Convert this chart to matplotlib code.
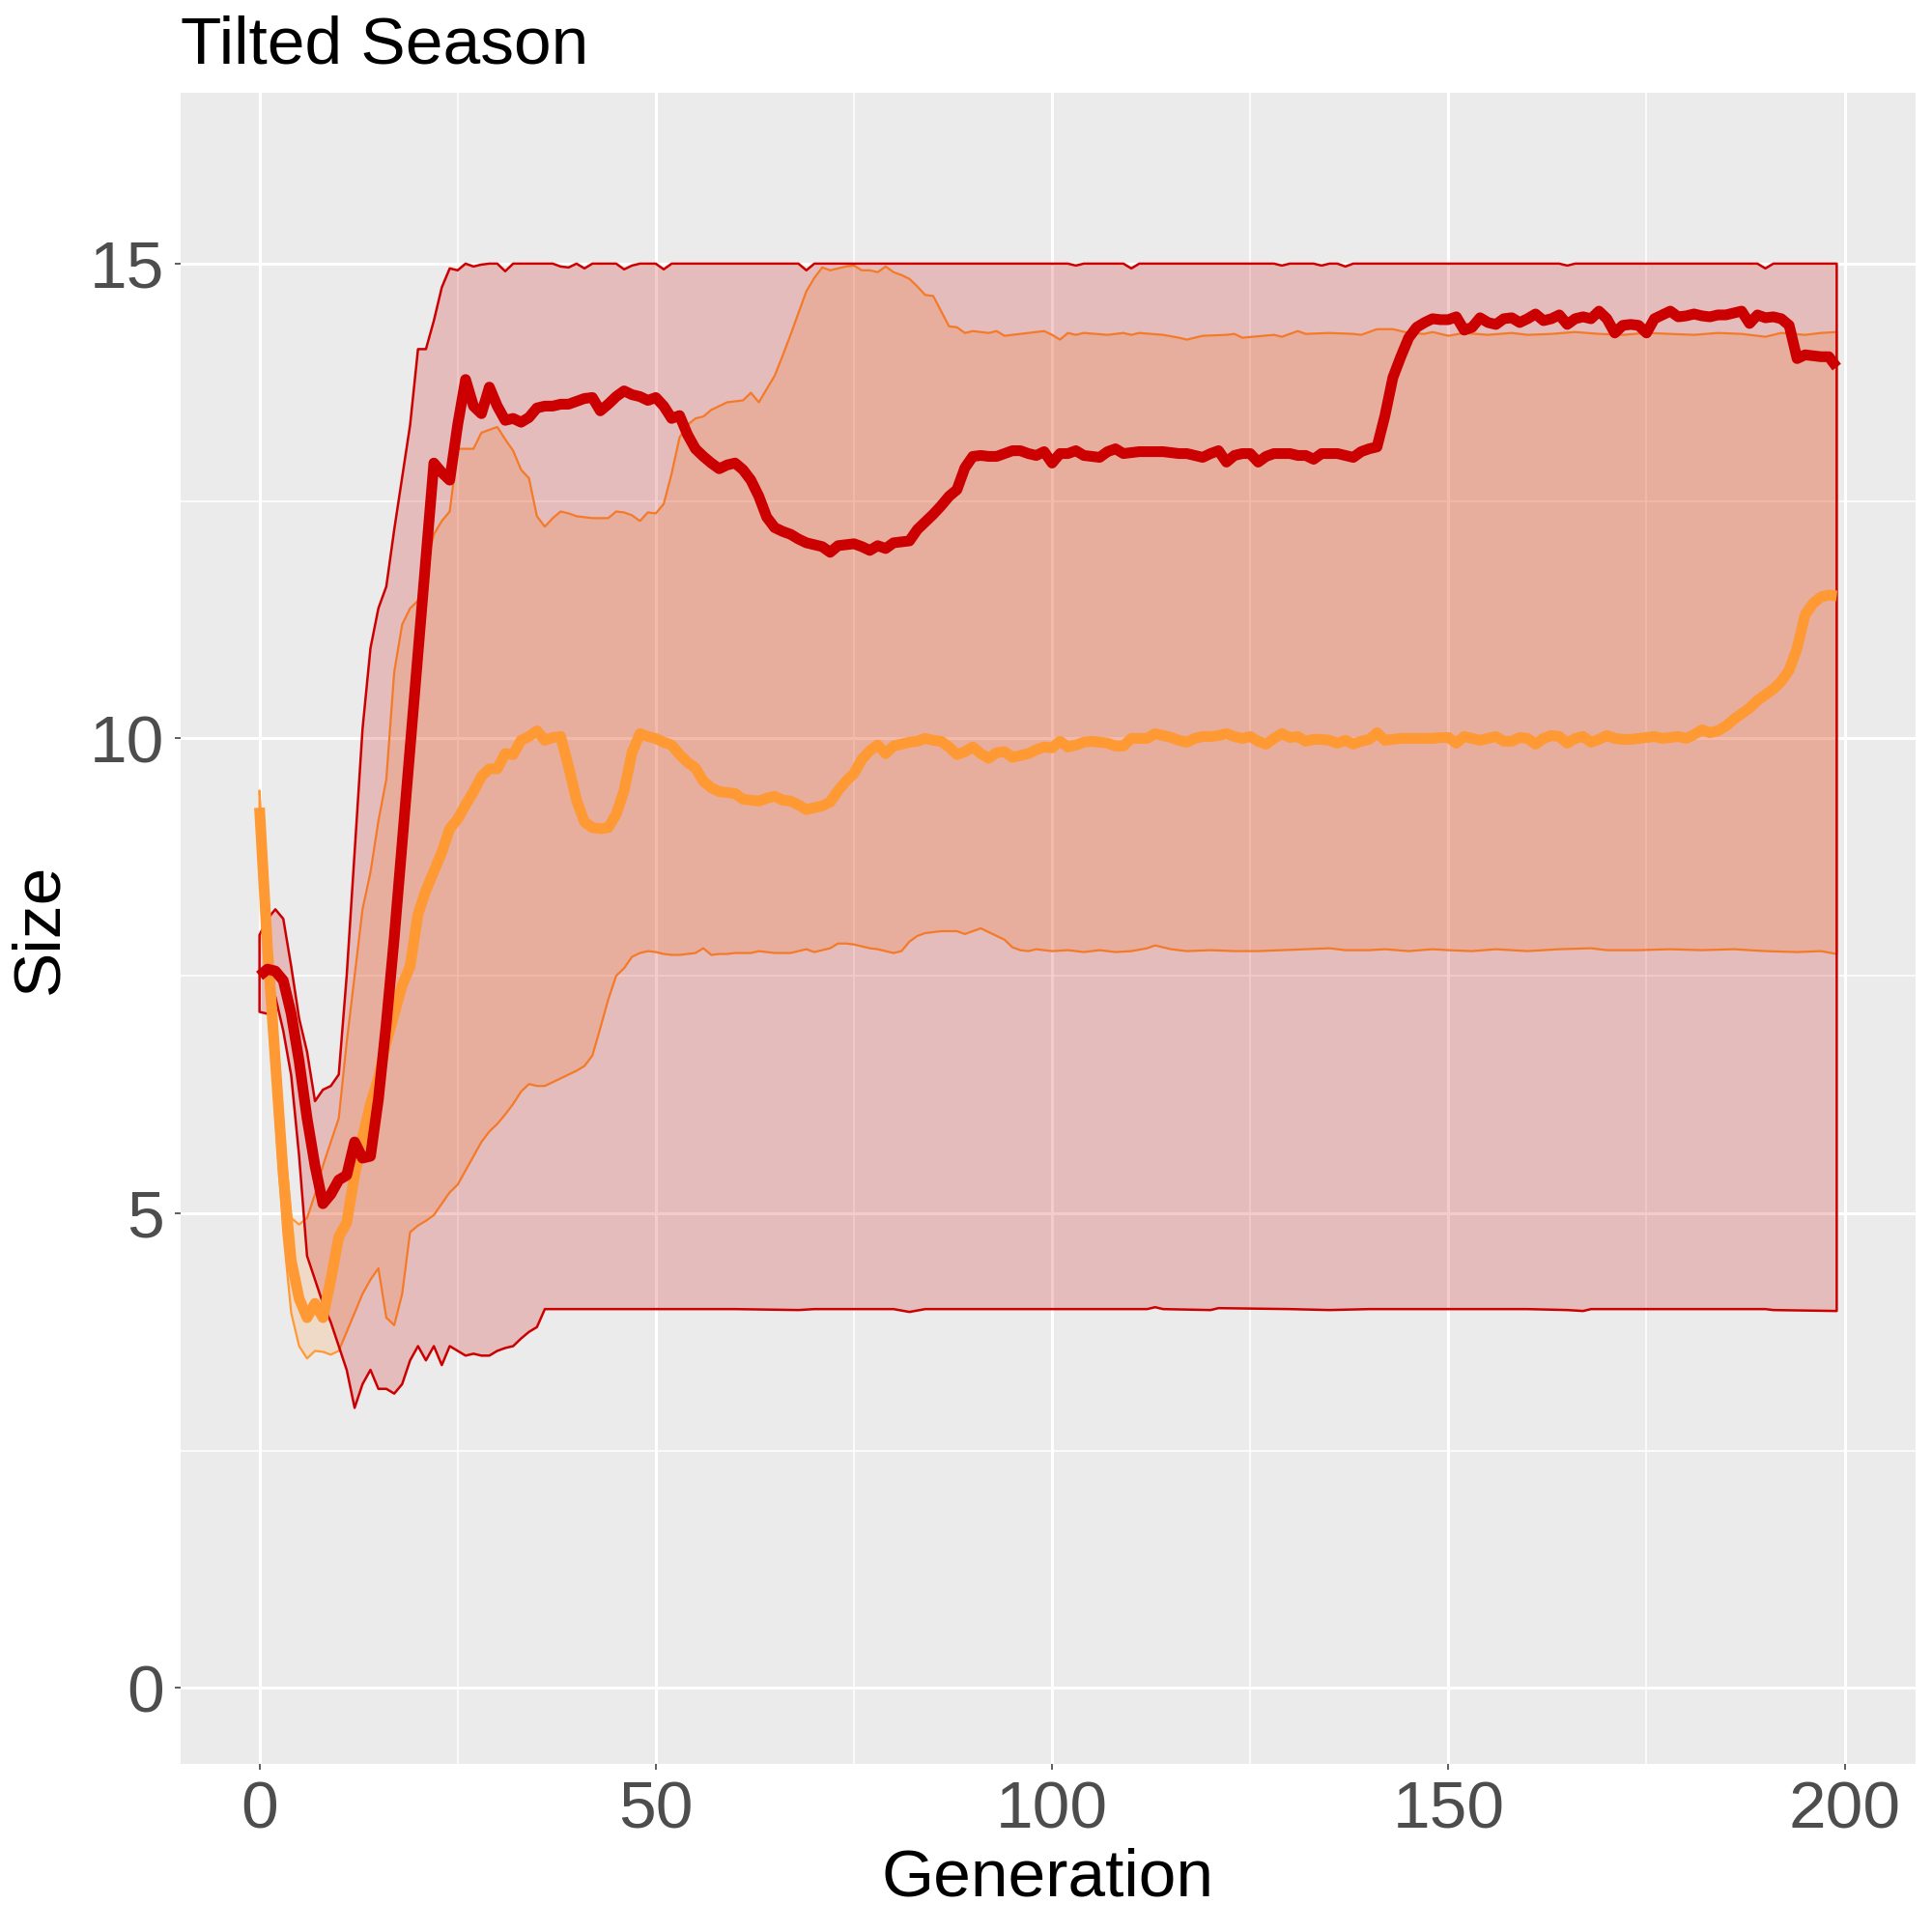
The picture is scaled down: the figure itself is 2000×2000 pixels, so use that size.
import matplotlib
matplotlib.use("Agg")
import matplotlib.pyplot as plt
import numpy as np

plt.rcParams['font.family'] = ['Liberation Sans', 'DejaVu Sans']

# ---------------- data ----------------
# red series: min / max envelope and median
red_max_gen = [0, 1, 2, 3, 4, 5, 6, 7, 8, 9, 10, 11, 12, 13, 14, 15, 16, 17, 18, 19, 20,
               21, 22, 23, 24, 25, 26, 27, 28, 29, 30, 31, 32, 37, 38, 39, 40, 41, 42, 45,
               46, 47, 48, 50, 51, 52, 68, 69, 70, 102, 103, 104, 109, 110, 111, 128, 129,
               130, 133, 134, 135, 136, 137, 138, 164, 165, 166, 189, 190, 191, 199]
red_max_val = [7.93, 8.1, 8.2, 8.1, 7.6, 7.05, 6.7, 6.18, 6.3, 6.34, 6.46, 7.5, 8.8, 10.1,
               10.95, 11.37, 11.6, 12.2, 12.75, 13.3, 14.1, 14.1, 14.4, 14.75, 14.95, 14.93,
               15.0, 14.97, 14.99, 15.0, 15.0, 14.92, 15.0, 15.0, 14.97, 14.96, 15.0, 14.95,
               15.0, 15.0, 14.94, 14.98, 15.0, 15.0, 14.94, 15.0, 15.0, 14.93, 15.0, 15.0,
               14.98, 15.0, 15.0, 14.95, 15.0, 15.0, 14.98, 15.0, 15.0, 14.98, 15.0, 15.0,
               14.97, 15.0, 15.0, 14.98, 15.0, 15.0, 14.95, 15.0, 15.0]

red_min_gen = [0, 1, 2, 3, 4, 5, 6, 7, 8, 9, 10, 11, 12, 13, 14, 15, 16, 17, 18, 19, 20,
               21, 22, 23, 24, 25, 26, 27, 28, 29, 30, 31, 32, 33, 34, 35, 36, 40, 50, 60,
               68, 70, 80, 82, 84, 100, 112, 113, 114, 120, 121, 130, 135, 140, 160, 165,
               167, 168, 180, 190, 191, 199]
red_min_val = [7.12, 7.1, 7.28, 6.92, 6.45, 5.6, 4.55, 4.3, 4.05, 3.85, 3.6, 3.35, 2.95,
               3.2, 3.35, 3.15, 3.15, 3.1, 3.2, 3.45, 3.6, 3.45, 3.6, 3.4, 3.6, 3.55, 3.5,
               3.52, 3.5, 3.5, 3.55, 3.58, 3.6, 3.68, 3.75, 3.8, 3.99, 3.99, 3.99, 3.99,
               3.98, 3.99, 3.99, 3.96, 3.99, 3.99, 3.99, 4.01, 3.99, 3.98, 4.0, 3.99, 3.98,
               3.99, 3.99, 3.98, 3.97, 3.99, 3.99, 3.99, 3.98, 3.97]

red_med_gen = list(range(0, 200))
red_med_val = [7.5, 7.57, 7.55, 7.45, 7.1, 6.6, 6.0, 5.5, 5.1, 5.2,
               5.35, 5.4, 5.75, 5.58, 5.6, 6.2, 7.0, 7.9, 8.9, 9.9,
               10.9, 11.9, 12.9, 12.8, 12.72, 13.3, 13.78, 13.5, 13.42, 13.7,
               13.5, 13.35, 13.37, 13.33, 13.38, 13.48, 13.5, 13.5, 13.52, 13.52,
               13.55, 13.58, 13.59, 13.45, 13.52, 13.6, 13.66, 13.62, 13.6, 13.56,
               13.59, 13.5, 13.37, 13.4, 13.2, 13.05, 12.97, 12.9, 12.84, 12.88,
               12.9, 12.83, 12.72, 12.55, 12.33, 12.22, 12.18, 12.15, 12.1, 12.06,
               12.04, 12.02, 11.96, 12.03, 12.04, 12.05, 12.02, 11.98, 12.03, 12.0,
               12.06, 12.07, 12.08, 12.2, 12.28, 12.36, 12.45, 12.55, 12.62, 12.85,
               12.97, 12.98, 12.97, 12.97, 13.0, 13.03, 13.03, 13.0, 12.98, 13.02,
               12.9, 13.0, 13.0, 13.03, 12.98, 12.97, 12.96, 13.02, 13.05, 13.0,
               13.01, 13.02, 13.02, 13.02, 13.02, 13.01, 13.0, 13.0, 12.98, 12.96,
               13.0, 13.03, 12.91, 12.98, 13.0, 13.0, 12.91, 12.97, 13.0, 13.0,
               13.0, 12.98, 12.98, 12.94, 13.0, 13.0, 13.0, 12.98, 12.96, 13.02,
               13.05, 13.07, 13.4, 13.8, 14.02, 14.22, 14.33, 14.38, 14.42, 14.41,
               14.41, 14.44, 14.3, 14.33, 14.43, 14.38, 14.36, 14.42, 14.43, 14.38,
               14.42, 14.47, 14.4, 14.42, 14.46, 14.36, 14.42, 14.44, 14.42, 14.5,
               14.42, 14.27, 14.35, 14.36, 14.35, 14.27, 14.42, 14.46, 14.5, 14.44,
               14.45, 14.47, 14.45, 14.44, 14.46, 14.46, 14.48, 14.5, 14.37, 14.46,
               14.43, 14.44, 14.42, 14.35, 14.0, 14.04, 14.03, 14.02, 14.02, 13.91]

# orange series: min / max envelope and median
orange_max_gen = list(range(0, 97)) + [99, 100, 101, 102, 103, 104, 107, 109, 110, 111,
                  114, 116, 117, 119, 122, 123, 124, 128, 129, 131, 132, 135, 138, 139,
                  141, 143, 145, 147, 148, 150, 152, 155, 158, 160, 163, 166, 169, 172,
                  175, 178, 181, 184, 187, 190, 192, 195, 197, 199]
orange_max_val = [9.45, 8.1, 7.0, 5.9, 4.95, 4.88, 4.95, 5.2, 5.5, 5.75,
                  6.0, 6.8, 7.5, 8.2, 8.59, 9.13, 9.57, 10.7, 11.2, 11.37,
                  11.45, 11.8, 12.15, 12.29, 12.39, 13.05, 13.05, 13.05, 13.22, 13.25,
                  13.28, 13.15, 13.03, 12.83, 12.74, 12.34, 12.23, 12.32, 12.39, 12.37,
                  12.34, 12.33, 12.32, 12.32, 12.32, 12.39, 12.38, 12.35, 12.29, 12.38,
                  12.37, 12.47, 12.79, 13.17, 13.3, 13.37, 13.39, 13.46, 13.5, 13.54,
                  13.55, 13.56, 13.64, 13.54, 13.68, 13.82, 14.03, 14.25, 14.48, 14.71,
                  14.85, 14.96, 14.93, 14.95, 14.97, 14.98, 14.93, 14.93, 14.91, 14.97,
                  14.91, 14.88, 14.84, 14.76, 14.67, 14.66, 14.5, 14.34, 14.33, 14.27,
                  14.29, 14.28, 14.27, 14.29, 14.24, 14.25, 14.26,
                  14.29, 14.25, 14.2, 14.27, 14.25, 14.27, 14.25, 14.27, 14.25, 14.27,
                  14.25, 14.22, 14.2, 14.24, 14.25, 14.26, 14.22, 14.25, 14.23, 14.29,
                  14.26, 14.27, 14.26, 14.25, 14.31, 14.31, 14.27, 14.26, 14.28, 14.24,
                  14.27, 14.25, 14.27, 14.25, 14.26, 14.28, 14.26, 14.25, 14.27, 14.26,
                  14.25, 14.27, 14.26, 14.23, 14.27, 14.25, 14.27, 14.28]

orange_min_gen = list(range(0, 98)) + [98, 100, 102, 104, 106, 108, 110, 112, 113, 115,
                  117, 120, 123, 126, 129, 132, 135, 137, 140, 142, 145, 148, 150, 153,
                  156, 160, 164, 168, 170, 174, 178, 182, 186, 190, 194, 197, 199]
orange_min_val = [9.15, 7.6, 6.0, 4.8, 3.95, 3.6, 3.47, 3.55, 3.54, 3.51,
                  3.55, 3.75, 3.95, 4.15, 4.3, 4.42, 3.9, 3.82, 4.15, 4.8,
                  4.87, 4.92, 4.98, 5.1, 5.22, 5.3, 5.45, 5.6, 5.75, 5.86,
                  5.94, 6.04, 6.15, 6.28, 6.36, 6.34, 6.34, 6.38, 6.42, 6.46,
                  6.5, 6.55, 6.66, 6.95, 7.25, 7.5, 7.58, 7.7, 7.74, 7.76,
                  7.75, 7.73, 7.72, 7.72, 7.73, 7.74, 7.79, 7.72, 7.73, 7.73,
                  7.74, 7.74, 7.74, 7.76, 7.75, 7.74, 7.74, 7.74, 7.76, 7.78,
                  7.75, 7.77, 7.79, 7.84, 7.84, 7.83, 7.81, 7.79, 7.78, 7.76,
                  7.74, 7.76, 7.86, 7.92, 7.95, 7.96, 7.97, 7.97, 7.97, 7.94,
                  7.97, 8.0, 7.96, 7.92, 7.88, 7.8, 7.77, 7.76,
                  7.78, 7.76, 7.77, 7.75, 7.77, 7.75, 7.76, 7.79, 7.82, 7.78,
                  7.76, 7.77, 7.76, 7.76, 7.77, 7.78, 7.79, 7.77, 7.77, 7.78,
                  7.76, 7.78, 7.77, 7.76, 7.78, 7.76, 7.78, 7.79, 7.77, 7.77,
                  7.78, 7.77, 7.78, 7.76, 7.75, 7.76, 7.73]

orange_med_gen = list(range(0, 200))
orange_med_val = [9.27, 7.8, 6.6, 5.4, 4.5, 4.1, 3.9, 4.05, 3.9, 4.3,
                  4.75, 4.9, 5.4, 5.8, 6.15, 6.42, 6.8, 7.1, 7.4, 7.6,
                  8.15, 8.4, 8.6, 8.8, 9.05, 9.15, 9.3, 9.44, 9.6, 9.68,
                  9.68, 9.84, 9.83, 9.98, 10.02, 10.08, 9.98, 10.01, 10.02, 9.7,
                  9.35, 9.12, 9.06, 9.05, 9.06, 9.2, 9.45, 9.85, 10.05, 10.02,
                  10.0, 9.96, 9.93, 9.83, 9.75, 9.69, 9.55, 9.48, 9.44, 9.43,
                  9.42, 9.36, 9.35, 9.34, 9.37, 9.39, 9.35, 9.34, 9.3, 9.25,
                  9.27, 9.29, 9.33, 9.45, 9.55, 9.63, 9.78, 9.87, 9.93, 9.84,
                  9.92, 9.94, 9.96, 9.97, 10.0, 9.98, 9.97, 9.91, 9.83, 9.86,
                  9.91, 9.84, 9.79, 9.85, 9.86, 9.8, 9.82, 9.84, 9.88, 9.91,
                  9.9, 9.97, 9.91, 9.93, 9.96, 9.97, 9.96, 9.95, 9.92, 9.92,
                  10.0, 10.0, 10.0, 10.05, 10.03, 10.01, 9.98, 9.96, 10.0, 10.02,
                  10.02, 10.03, 10.05, 10.02, 10.0, 10.02, 9.97, 9.94, 10.0, 10.05,
                  10.01, 10.02, 9.97, 9.99, 9.99, 9.98, 9.95, 9.98, 9.94, 9.97,
                  9.99, 10.06, 9.98, 9.99, 10.0, 10.0, 10.0, 10.0, 10.0, 10.01,
                  10.01, 9.95, 10.02, 10.0, 9.98, 10.0, 10.02, 9.97, 9.97, 10.01,
                  10.0, 9.94, 10.0, 10.03, 10.02, 9.95, 10.0, 10.02, 9.96, 9.99,
                  10.03, 10.0, 9.99, 9.99, 10.0, 10.01, 10.02, 10.0, 10.01, 10.02,
                  10.0, 10.04, 10.09, 10.06, 10.08, 10.13, 10.2, 10.26, 10.32, 10.4,
                  10.46, 10.52, 10.6, 10.72, 10.95, 11.3, 11.42, 11.49, 11.51, 11.5]

x_ticks = [0, 50, 100, 150, 200]
y_ticks = [0, 5, 10, 15]
title = "Tilted Season"
x_label = "Generation"
y_label = "Size"

# ---------------- styling ----------------
RED = "#CC0000"
ORANGE = "#FF9933"
BG = "#EBEBEB"
TXT = 50

fig = plt.figure(figsize=(20, 20), dpi=100)
ax = fig.add_axes([0.0935, 0.087, 0.898, 0.865])
ax.set_facecolor(BG)
for s in ax.spines.values():
    s.set_visible(False)


def ribbon(xlo, ylo, xhi, yhi, color, lw):
    px = np.concatenate([np.asarray(xhi, float), np.asarray(xlo, float)[::-1]])
    py = np.concatenate([np.asarray(yhi, float), np.asarray(ylo, float)[::-1]])
    ax.fill(px, py, facecolor=matplotlib.colors.to_rgba(color, 0.2),
            edgecolor=color, linewidth=lw, joinstyle='round', zorder=2)


ribbon(orange_min_gen, orange_min_val, orange_max_gen, orange_max_val, ORANGE, 1.6)
ribbon(red_min_gen, red_min_val, red_max_gen, red_max_val, RED, 1.8)
ax.plot(orange_med_gen, orange_med_val, color=ORANGE, lw=8.0,
        solid_joinstyle='round', solid_capstyle='butt', zorder=3)
ax.plot(red_med_gen, red_med_val, color=RED, lw=8.0,
        solid_joinstyle='round', solid_capstyle='butt', zorder=4)

ax.set_xlim(-9.95, 208.95)
ax.set_ylim(-0.8, 16.8)
ax.set_xticks(x_ticks)
ax.set_yticks(y_ticks)
ax.set_xticks([25, 75, 125, 175], minor=True)
ax.set_yticks([2.5, 7.5, 12.5], minor=True)
ax.grid(which='major', color='white', linewidth=2.2)
ax.grid(which='minor', color='white', linewidth=1.1)
ax.set_axisbelow(True)
ax.tick_params(which='major', length=4, width=1.1, color='#333333',
               labelsize=TXT, labelcolor='#4D4D4D', pad=8)
ax.tick_params(which='minor', length=0)

ax.set_xlabel(x_label, fontsize=TXT, color='black', labelpad=4)
ax.set_ylabel(y_label, fontsize=TXT, color='black', labelpad=14)
fig.text(0.0935, 1 - 66 / 2000, title, fontsize=TXT, color='black',
         ha='left', va='baseline')

fig.savefig("out.png", dpi=100, facecolor='white')
